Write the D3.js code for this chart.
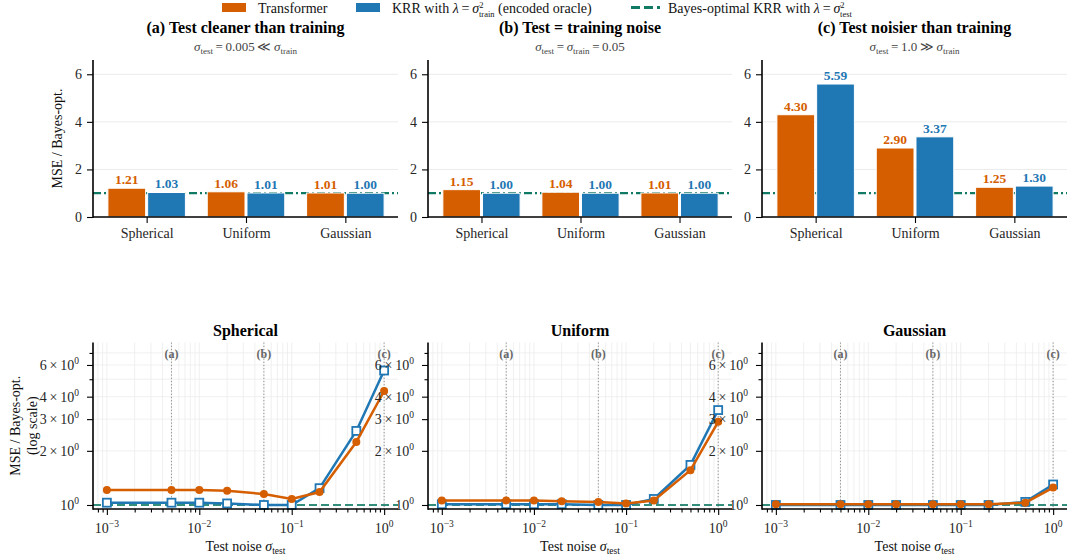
<!DOCTYPE html>
<html>
<head>
<meta charset="utf-8">
<script src="https://cdn.jsdelivr.net/npm/d3@7"></script>
<style>
  html, body { margin: 0; padding: 0; background: #fff; }
  svg { display: block; font-family: "Liberation Serif", "DejaVu Serif", serif; }
</style>
</head>
<body>
<svg id="fig" width="1070" height="559"></svg>
<script>
// ---- data ----
const categories = ["Spherical", "Uniform", "Gaussian"];
const noiseLevels = [0.001, 0.005, 0.01, 0.02, 0.05, 0.1, 0.2, 0.5, 1.0];

// MSE relative to the Bayes-optimal KRR, per input distribution
const transformerSpherical = [1.21, 1.21, 1.21, 1.20, 1.15, 1.08, 1.18, 2.24, 4.30];
const krrSpherical         = [1.03, 1.03, 1.03, 1.02, 1.00, 1.00, 1.24, 2.58, 5.59];
const transformerUniform   = [1.06, 1.06, 1.06, 1.05, 1.04, 1.02, 1.06, 1.56, 2.90];
const krrUniform           = [1.01, 1.01, 1.01, 1.01, 1.00, 1.00, 1.08, 1.67, 3.37];
const transformerGaussian  = [1.01, 1.01, 1.01, 1.01, 1.01, 1.01, 1.01, 1.03, 1.25];
const krrGaussian          = [1.00, 1.00, 1.00, 1.00, 1.00, 1.00, 1.00, 1.04, 1.30];

const transformerSeries = [transformerSpherical, transformerUniform, transformerGaussian];
const krrSeries = [krrSpherical, krrUniform, krrGaussian];

// the three test-noise regimes shown as bar panels
const regimeNoise = [0.005, 0.05, 1.0];
const regimeTags = ["(a)", "(b)", "(c)"];
const regimeTitles = ["(a) Test cleaner than training", "(b) Test = training noise", "(c) Test noisier than training"];

const barTicks = [0, 2, 4, 6];
const logMajor = [0.001, 0.01, 0.1, 1];
const logExponents = ["\u22123", "\u22122", "\u22121", "0"];
const yLogTicks = [1, 2, 3, 4, 6];
const yLogMinor = [5, 7];

// ---- style ----
const C_T = "#d55e00", C_K = "#1f77b4", C_B = "#117a65";
const TICK_COLOR = "#262626";
const panelX = [[93, 398], [428, 732], [762, 1067]];
const topY = [60, 217];
const botY = [342.5, 509];

const svg = d3.select("#fig");

function styleAxis(a) {
  a.attr("font-family", null).attr("font-size", null);
  a.select(".domain").remove();
  a.selectAll("line").attr("stroke", "#000").attr("stroke-width", 1.1);
  a.selectAll("text").filter(function () { return !this.textContent; }).remove();
  a.selectAll("text").attr("font-size", 14).attr("fill", TICK_COLOR);
}

// ---------- legend ----------
const leg = svg.append("g").attr("font-size", 14).attr("fill", "#111");
leg.append("rect").attr("x", 222).attr("y", 3).attr("width", 24).attr("height", 9).attr("fill", C_T);
leg.append("text").attr("x", 258).attr("y", 12.5).text("Transformer");
leg.append("rect").attr("x", 356).attr("y", 3).attr("width", 24).attr("height", 9).attr("fill", C_K);
// λ = σ² with a subscript stacked under the exponent
function lambdaEq(t, sub) {
  t.append("tspan").attr("font-style", "italic").text("\u03bb");
  t.append("tspan").text("\u2009=\u2009");
  t.append("tspan").attr("font-style", "italic").text("\u03c3");
  t.append("tspan").attr("font-size", 8.5).attr("dy", -5).text("2");
  t.append("tspan").attr("font-size", 8.5).attr("dx", -4.5).attr("dy", 9).text(sub);
}
(function () {
  const t = leg.append("text").attr("x", 392).attr("y", 12.5);
  t.append("tspan").text("KRR with ");
  lambdaEq(t, "train");
  t.append("tspan").attr("dy", -4).text(" (encoded oracle)");
})();
leg.append("line").attr("x1", 631).attr("x2", 660).attr("y1", 7.5).attr("y2", 7.5)
  .attr("stroke", C_B).attr("stroke-width", 3).attr("stroke-dasharray", "9,4");
(function () {
  const t = leg.append("text").attr("x", 668).attr("y", 12.5);
  t.append("tspan").text("Bayes-optimal KRR with ");
  lambdaEq(t, "test");
})();

// subtitle: σ_test relative to σ_train for each regime
const subtitleParts = [
  [["s", "test"], ["t", "\u2009=\u20090.005\u2009\u226a\u2009"], ["s", "train"]],
  [["s", "test"], ["t", "\u2009=\u2009"], ["s", "train"], ["t", "\u2009=\u20090.05"]],
  [["s", "test"], ["t", "\u2009=\u20091.0\u2009\u226b\u2009"], ["s", "train"]]
];
function subtitle(g, i, cx) {
  const t = g.append("text").attr("x", cx).attr("y", 51).attr("text-anchor", "middle")
    .attr("font-size", 13).attr("fill", "#444");
  let lowered = false;
  subtitleParts[i].forEach(([kind, txt]) => {
    if (kind === "s") {
      t.append("tspan").attr("font-style", "italic").attr("dy", lowered ? -3 : 0).text("\u03c3");
      t.append("tspan").attr("font-size", 9).attr("dy", 3).text(txt);
      lowered = true;
    } else {
      t.append("tspan").attr("dy", lowered ? -3 : 0).text(txt);
      lowered = false;
    }
  });
}

// ---------- top row: bar panels ----------
const yBar = d3.scaleLinear().domain([0, 6.6]).range([topY[1], topY[0]]);

regimeNoise.forEach((noise, i) => {
  const [x0, x1] = panelX[i];
  const g = svg.append("g");
  const xCat = d3.scaleLinear().domain([-0.54, 2.53]).range([x0, x1]);
  const idx = noiseLevels.indexOf(noise);
  const tVals = transformerSeries.map(s => s[idx]);
  const kVals = krrSeries.map(s => s[idx]);

  // grid
  g.selectAll(".grid").data(barTicks.filter(d => d > 0)).join("line")
    .attr("x1", x0).attr("x2", x1).attr("y1", d => yBar(d)).attr("y2", d => yBar(d))
    .attr("stroke", "#ebebeb").attr("stroke-width", 1);

  // reference level
  g.append("line").attr("x1", x0).attr("x2", x1).attr("y1", yBar(1)).attr("y2", yBar(1))
    .attr("stroke", C_B).attr("stroke-width", 2.2).attr("stroke-dasharray", "8,3,2,3");

  const bw = 0.38;
  const drawBars = (vals, off, color) => {
    g.selectAll(null).data(vals).join("rect")
      .attr("x", (d, j) => xCat(j + off - bw / 2))
      .attr("width", xCat(bw) - xCat(0))
      .attr("y", d => yBar(d))
      .attr("height", d => yBar(0) - yBar(d))
      .attr("fill", color).attr("stroke", "#fff").attr("stroke-width", 1);
    g.selectAll(null).data(vals).join("text")
      .attr("x", (d, j) => xCat(j + off))
      .attr("y", d => yBar(d) - 4)
      .attr("text-anchor", "middle").attr("font-size", 13.5).attr("font-weight", "bold")
      .attr("fill", color).text(d => d.toFixed(2));
  };
  drawBars(tVals, -0.2, C_T);
  drawBars(kVals, 0.2, C_K);

  // axes
  const ax = d3.axisBottom(xCat).tickValues([0, 1, 2]).tickFormat(j => categories[j]).tickSize(6).tickPadding(5);
  styleAxis(g.append("g").attr("transform", `translate(0,${topY[1]})`).call(ax));
  const ay = d3.axisLeft(yBar).tickValues(barTicks).tickFormat(d3.format("d")).tickSize(6).tickPadding(5);
  styleAxis(g.append("g").attr("transform", `translate(${x0},0)`).call(ay));
  g.append("line").attr("x1", x0).attr("x2", x0).attr("y1", topY[0]).attr("y2", topY[1] + 0.8)
    .attr("stroke", "#000").attr("stroke-width", 1.6);
  g.append("line").attr("x1", x0).attr("x2", x1).attr("y1", topY[1]).attr("y2", topY[1])
    .attr("stroke", "#000").attr("stroke-width", 1.6);

  const cx = (x0 + x1) / 2;
  g.append("text").attr("x", cx).attr("y", 33).attr("text-anchor", "middle")
    .attr("font-size", 16).attr("font-weight", "bold").attr("fill", "#000").text(regimeTitles[i]);
  subtitle(g, i, cx);
});

svg.append("text").attr("transform", `translate(62,${(topY[0] + topY[1]) / 2}) rotate(-90)`)
  .attr("text-anchor", "middle").attr("font-size", 14).attr("fill", "#111").text("MSE / Bayes-opt.");

// ---------- bottom row: log-log curves ----------
const yLog = d3.scaleLog().domain([0.95, 8]).range([botY[1], botY[0]]);
const xMinor = [];
[-4, -3, -2, -1, 0].forEach(e => { for (let m = 1; m <= 9; m++) xMinor.push(m * Math.pow(10, e)); });

categories.forEach((cat, i) => {
  const [x0, x1] = panelX[i];
  const g = svg.append("g");
  const xLog = d3.scaleLog().domain([Math.pow(10, -3.15), Math.pow(10, 0.15)]).range([x0, x1]);
  const [lo, hi] = xLog.domain();
  const xs = xMinor.filter(v => v >= lo && v <= hi);

  // grid
  g.selectAll(null).data(xs).join("line")
    .attr("x1", d => xLog(d)).attr("x2", d => xLog(d)).attr("y1", botY[0]).attr("y2", botY[1])
    .attr("stroke", "#ececec").attr("stroke-width", 0.8);
  g.selectAll(null).data([2, 3, 4, 5, 6, 7]).join("line")
    .attr("x1", x0).attr("x2", x1).attr("y1", d => yLog(d)).attr("y2", d => yLog(d))
    .attr("stroke", "#ececec").attr("stroke-width", 0.8);

  // regime markers
  regimeNoise.forEach((n, k) => {
    g.append("line").attr("x1", xLog(n)).attr("x2", xLog(n)).attr("y1", botY[0]).attr("y2", botY[1])
      .attr("stroke", "#8a8a8a").attr("stroke-width", 1).attr("stroke-dasharray", "1.2,2");
    g.append("text").attr("x", xLog(n)).attr("y", 358).attr("text-anchor", "middle")
      .attr("font-size", 12).attr("font-weight", "bold").attr("fill", "#666").text(regimeTags[k]);
  });

  // reference level
  g.append("line").attr("x1", x0).attr("x2", x1).attr("y1", yLog(1)).attr("y2", yLog(1))
    .attr("stroke", C_B).attr("stroke-opacity", 0.85).attr("stroke-width", 2.2).attr("stroke-dasharray", "8,4");

  const line = d3.line().x((d, j) => xLog(noiseLevels[j])).y(d => yLog(d));

  // KRR oracle
  g.append("path").datum(krrSeries[i]).attr("d", line).attr("fill", "none")
    .attr("stroke", C_K).attr("stroke-width", 2.5);
  g.selectAll(null).data(krrSeries[i]).join("rect")
    .attr("x", (d, j) => xLog(noiseLevels[j]) - 4).attr("y", d => yLog(d) - 4)
    .attr("width", 8).attr("height", 8)
    .attr("fill", "#fff").attr("stroke", C_K).attr("stroke-width", 1.8);

  // Transformer
  g.append("path").datum(transformerSeries[i]).attr("d", line).attr("fill", "none")
    .attr("stroke", C_T).attr("stroke-width", 2.5);
  g.selectAll(null).data(transformerSeries[i]).join("circle")
    .attr("cx", (d, j) => xLog(noiseLevels[j])).attr("cy", d => yLog(d)).attr("r", 4)
    .attr("fill", C_T);

  // x axis
  const ax = d3.axisBottom(xLog).tickValues(logMajor).tickFormat(() => "").tickSize(6);
  styleAxis(g.append("g").attr("transform", `translate(0,${botY[1]})`).call(ax));
  const axm = d3.axisBottom(xLog).tickValues(xs.filter(v => !logMajor.includes(v))).tickFormat(() => "").tickSize(3.5);
  styleAxis(g.append("g").attr("transform", `translate(0,${botY[1]})`).call(axm));
  logMajor.forEach((v, k) => {
    const t = g.append("text").attr("x", xLog(v)).attr("y", 533).attr("text-anchor", "middle")
      .attr("font-size", 14).attr("fill", TICK_COLOR);
    t.append("tspan").text("10");
    t.append("tspan").attr("font-size", 9.5).attr("dy", -6).text(logExponents[k]);
  });

  // y axis
  const ay = d3.axisLeft(yLog).tickValues(yLogTicks).tickFormat(() => "").tickSize(6);
  styleAxis(g.append("g").attr("transform", `translate(${x0},0)`).call(ay));
  const aym = d3.axisLeft(yLog).tickValues(yLogMinor).tickFormat(() => "").tickSize(3.5);
  styleAxis(g.append("g").attr("transform", `translate(${x0},0)`).call(aym));
  yLogTicks.forEach(v => {
    const t = g.append("text").attr("x", x0 - 14).attr("y", yLog(v) + 5).attr("text-anchor", "end")
      .attr("font-size", 14).attr("fill", TICK_COLOR);
    if (v !== 1) t.append("tspan").text(v + "\u2009\u00d7\u2009");
    t.append("tspan").text("10");
    t.append("tspan").attr("font-size", 9.5).attr("dy", -6).text("0");
  });

  g.append("line").attr("x1", x0).attr("x2", x0).attr("y1", botY[0]).attr("y2", botY[1] + 0.8)
    .attr("stroke", "#000").attr("stroke-width", 1.6);
  g.append("line").attr("x1", x0).attr("x2", x1).attr("y1", botY[1]).attr("y2", botY[1])
    .attr("stroke", "#000").attr("stroke-width", 1.6);

  const cx = (x0 + x1) / 2;
  g.append("text").attr("x", cx).attr("y", 336).attr("text-anchor", "middle")
    .attr("font-size", 16).attr("font-weight", "bold").attr("fill", "#000").text(cat);

  const xl = g.append("text").attr("x", cx).attr("y", 551).attr("text-anchor", "middle")
    .attr("font-size", 14).attr("fill", "#111");
  xl.append("tspan").text("Test noise ");
  xl.append("tspan").attr("font-style", "italic").text("\u03c3");
  xl.append("tspan").attr("font-size", 9.5).attr("dy", 3).text("test");
});

const ylCenter = (botY[0] + botY[1]) / 2;
svg.append("text").attr("transform", `translate(20,${ylCenter}) rotate(-90)`)
  .attr("text-anchor", "middle").attr("font-size", 14).attr("fill", "#111").text("MSE / Bayes-opt.");
svg.append("text").attr("transform", `translate(37,${ylCenter}) rotate(-90)`)
  .attr("text-anchor", "middle").attr("font-size", 14).attr("fill", "#111").text("(log scale)");
</script>
</body>
</html>
